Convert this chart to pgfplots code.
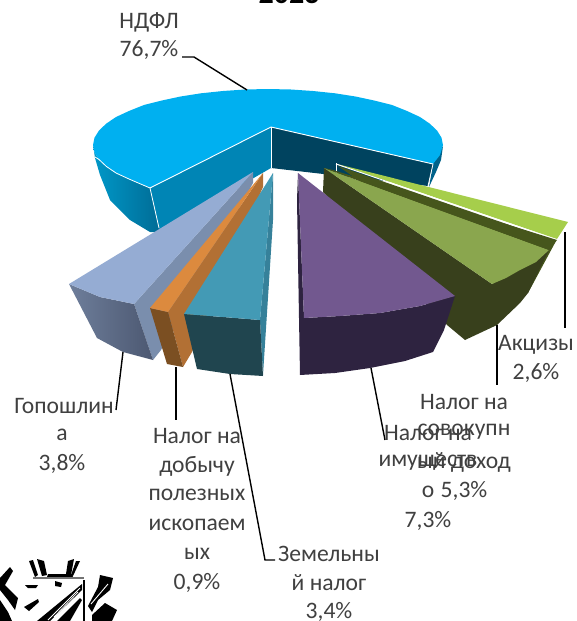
\documentclass[border=0pt]{standalone}
\usepackage{fontspec}
\setmainfont{Carlito}
\usepackage{pgfplots}
\pgfplotsset{compat=1.18}
\definecolor{ndfl}{HTML}{00B0F0}
\definecolor{txt}{HTML}{404040}
\definecolor{wallA}{RGB}{0,152,200}
\definecolor{wallB}{RGB}{0,108,150}
\definecolor{greyA}{RGB}{110,126,155}
\definecolor{greyB}{RGB}{76,88,113}
\tikzset{lab/.style={font=\fontsize{23.6}{24}\selectfont,text=txt,anchor=center,inner sep=0pt}}
\begin{document}
\begin{tikzpicture}
\path[use as bounding box,clip] (0,0) rectangle (577pt,621pt);
\begin{axis}[at={(0,0)},anchor=south west,scale only axis,width=577pt,height=621pt,
  xmin=0,xmax=577,ymin=0,ymax=621,y dir=reverse,hide axis,clip=false]
% NDFL walls
\addplot[draw=none,left color=wallA,right color=wallB] coordinates {(93,145)(94.5,152.3)(99,159.5)(106.3,166.4)(116,173)(129.2,179.1)(150,188)(160,232)(150,232)(130,220)(110,200)(100,175)(95,158)} --cycle;
\addplot[draw=none,fill={rgb,255:red,0;green,133;blue,181}] coordinates {(271,127)(150,188)(160,232)(271,168)} --cycle;
\addplot[draw=none,fill={rgb,255:red,0;green,67;blue,95}] coordinates {(271,127)(433,164)(428,186)(271,168)} --cycle;
\addplot[draw=none,fill={rgb,255:red,0;green,98;blue,138}] coordinates {(433,164)(443,146)(441,160)(436,172)(429,187)} --cycle;
% NDFL top
\addplot[draw=none,fill=ndfl] coordinates {(433,164)(440,155)(443,145)(441.5,137.7)(437,130.5)(429.7,123.6)(420,117)(406.8,110.9)(392,105)(374.6,100.6)(355.5,96.5)(335,93.3)(313,91)(291,89.5)(268,89)(245,89.5)(223,91)(201,93.3)(180.5,96.5)(161.4,100.6)(144,105)(129.2,110.9)(116,117)(106.3,123.6)(99,130.5)(94.5,137.7)(93,145)(94.5,152.3)(99,159.5)(106.3,166.4)(116,173)(129.2,179.1)(150,188)(271,127)} --cycle;
\addplot[draw=white,line width=0.9pt] coordinates {(433,164)(271,127)(150,188)};
\addplot[draw=white,line width=0.8pt] coordinates {(95,157)(99,159.5)(106.3,166.4)(116,173)(129.2,179.1)(150,188)(159,228)};
\addplot[draw=white,line width=0.8pt] coordinates {(271,127)(271,168)};
\addplot[draw=white,line width=0.8pt] coordinates {(433,164)(428,186)};
% Aktsizy
\addplot[draw=none,fill={rgb,255:red,166;green,206;blue,75}] coordinates {(337,164)(568,222)(557,239)} --cycle;
\addplot[draw=white,line width=1pt] coordinates {(336,163)(336,175)};
\addplot[draw=white,line width=1pt] coordinates {(336,164)(557,240)};
% Sovokupny dokhod
\addplot[draw=none,fill={rgb,255:red,70;green,86;blue,28}] coordinates {(338,166)(556,241)(528,293)(500,280)} --cycle;
\addplot[draw=none,fill={rgb,255:red,56;green,64;blue,28}] coordinates {(324,168)(492,284)(549,250)(528,293)(520,303)(497,325)(465,340)(447,325)(323,192)} --cycle;
\addplot[draw=none,fill={rgb,255:red,138;green,166;blue,78}] coordinates {(324,168)(549,250)(536,262)(520,270)(506,278)(492,284)} --cycle;
\addplot[draw=none,fill={rgb,255:red,70;green,86;blue,28}] coordinates {(324,168)(333,170)(557,240)(549,250)} --cycle;
% Imushchestvo
\addplot[draw=none,fill={rgb,255:red,46;green,35;blue,64}] coordinates {(298,173)(304,318)(340,316)(380,313)(420,306)(455,296)(444,330)(433,352)(405,361)(370,368)(335,373)(300,375)(299,318)(297,200)} --cycle;
\addplot[draw=none,fill={rgb,255:red,114;green,88;blue,143}] coordinates {(298,173)(455,296)(420,306)(380,313)(340,316)(304,318)} --cycle;
% Blue-grey
\addplot[draw=none,fill={rgb,255:red,122;green,142;blue,173}] coordinates {(253,172)(253,183)(161,350)(153,360)(134,304)} --cycle;
\addplot[draw=none,left color=greyA,right color=greyB] coordinates {(69,284)(100,297)(134,304)(153,360)(123,352)(97,338)} --cycle;
\addplot[draw=none,fill={rgb,255:red,149;green,172;blue,211}] coordinates {(253,172)(69,284)(100,297)(134,304)} --cycle;
% Orange
\addplot[draw=none,fill={rgb,255:red,178;green,112;blue,52}] coordinates {(263,173)(263,187)(192,352)(183,367)(168,312)} --cycle;
\addplot[draw=none,fill={rgb,255:red,123;green,79;blue,34}] coordinates {(150,308)(168,312)(183,367)(167,364)} --cycle;
\addplot[draw=none,fill={rgb,255:red,220;green,138;blue,62}] coordinates {(263,173)(150,308)(168,312)} --cycle;
% Teal
\addplot[draw=none,fill={rgb,255:red,54;green,129;blue,154}] coordinates {(273,173)(273,220)(263,375)(260,320)} --cycle;
\addplot[draw=none,fill={rgb,255:red,32;green,69;blue,79}] coordinates {(184,314)(223,317)(260,320)(263,376)(230,374)(197,369)} --cycle;
\addplot[draw=none,fill={rgb,255:red,67;green,154;blue,181}] coordinates {(273,173)(184,314)(223,317)(260,320)} --cycle;
% Leader lines
\addplot[black,line width=1.4pt] coordinates {(182,57)(194,57)(247,90)};
\addplot[black,line width=1.4pt] coordinates {(565,232)(565,328)};
\addplot[black,line width=1.4pt] coordinates {(497,325)(497,385)};
\addplot[black,line width=1.4pt] coordinates {(371,368)(385,440)};
\addplot[black,line width=1.4pt] coordinates {(123,352)(116,410)};
\addplot[black,line width=1.4pt] coordinates {(176,367)(176,420)};
\addplot[black,line width=1.4pt] coordinates {(230,374)(265,560)(275,560)};
% Logo
\addplot[draw=none,fill=black] coordinates {(29,561)(33,560)(38,575)(35,577)} --cycle;
\addplot[draw=none,fill=black] coordinates {(37,559)(44,561)(47,575)(42,576)} --cycle;
\addplot[draw=none,fill=black] coordinates {(48,574)(72,574)(73,577)(47,577)} --cycle;
\addplot[draw=none,fill=black] coordinates {(68,561)(74,559)(71,575)(66,574)} --cycle;
\addplot[draw=none,fill=black] coordinates {(76,561)(80,561)(73,576)(71,575)} --cycle;
\addplot[draw=none,fill=black!55] coordinates {(33,577)(84,577)(84,579)(33,579)} --cycle;
\addplot[draw=none,fill=black] coordinates {(83,580)(85,580)(85,621)(83,621)} --cycle;
\addplot[draw=none,fill=black] coordinates {(82,584)(82,590)(50,621)(37,621)} --cycle;
\addplot[draw=none,fill=black] coordinates {(57,621)(80,598)(82,600)(70,621)} --cycle;
\addplot[white,line width=0.8pt] coordinates {(78,592)(54,617)};
\addplot[white,line width=0.8pt] coordinates {(80,588)(48,620)};
\addplot[draw=none,fill=black] coordinates {(24,607)(38,599)(39,602)(29,611)} --cycle;
\addplot[draw=none,fill=black] coordinates {(25,585)(38,585)(36,588)(28,588)} --cycle;
\addplot[draw=none,fill=black] coordinates {(55,581)(62,583)(61,587)(55,586)} --cycle;
\addplot[draw=none,fill=black] coordinates {(0,578)(10,567)(13,571)(5,585)(18,598)(15,610)(8,600)(0,590)} --cycle;
\addplot[draw=none,fill=black] coordinates {(0,600)(8,612)(12,621)(0,621)} --cycle;
\addplot[draw=none,fill=black] coordinates {(88,606)(98,587)(100,575)(113,578)(110,590)(98,600)(92,612)} --cycle;
\addplot[white,line width=0.9pt] coordinates {(91,604)(108,584)};
\addplot[draw=none,fill=black] coordinates {(92,615)(105,603)(117,610)(112,621)(92,621)} --cycle;
% Labels
\node[lab,font=\fontsize{30}{30}\selectfont\bfseries,text=black,anchor=base] at (axis cs:289,3) {2023};
\node[lab] at (axis cs:149,22) {НДФЛ};
\node[lab] at (axis cs:149,50) {76,7\%};
\node[lab] at (axis cs:536,345) {Акцизы};
\node[lab] at (axis cs:536,373) {2,6\%};
\node[lab] at (axis cs:464,402) {Налог на};
\node[lab] at (axis cs:464,432) {совокупн};
\node[lab] at (axis cs:464,462) {ый доход};
\node[lab] at (axis cs:464,491) {5,3\%};
\node[lab] at (axis cs:428,433) {Налог на};
\node[lab] at (axis cs:428,463) {имуществ};
\node[lab] at (axis cs:428,492) {о};
\node[lab] at (axis cs:428,521) {7,3\%};
\node[lab] at (axis cs:64,406) {Гопошлин};
\node[lab] at (axis cs:62,435) {а};
\node[lab] at (axis cs:62,464) {3,8\%};
\node[lab] at (axis cs:197,436) {Налог на};
\node[lab] at (axis cs:197,466) {добычу};
\node[lab] at (axis cs:197,495) {полезных};
\node[lab] at (axis cs:197,525) {ископаем};
\node[lab] at (axis cs:197,554) {ых};
\node[lab] at (axis cs:197,583) {0,9\%};
\node[lab] at (axis cs:329,554) {Земельны};
\node[lab] at (axis cs:329,583) {й налог};
\node[lab] at (axis cs:329,612) {3,4\%};
\end{axis}
\end{tikzpicture}
\end{document}
